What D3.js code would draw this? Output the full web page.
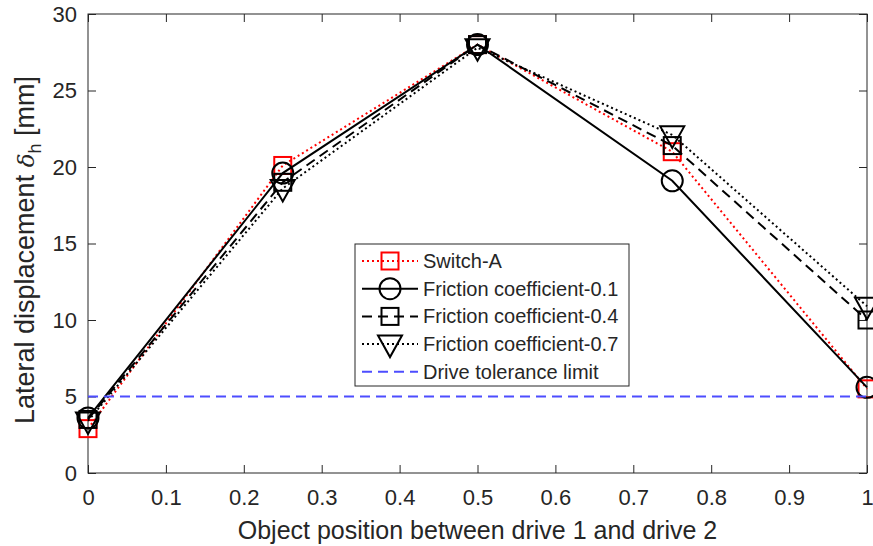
<!DOCTYPE html>
<html>
<head>
<meta charset="utf-8">
<script src="https://cdn.jsdelivr.net/npm/d3@7"></script>
<style>
	body { margin: 0; background: #fff; }
	text { font-family: "Liberation Sans", Arial, sans-serif; fill: #262626; }
</style>
</head>
<body>
<div id="chart"></div>
<script>
var xPos = [0, 0.25, 0.5, 0.75, 1];
var switchA = [2.9, 20.1, 28.0, 21.0, 5.5];
var fric01 = [3.6, 19.6, 28.0, 19.1, 5.6];
var fric04 = [3.5, 19.0, 28.0, 21.4, 10.0];
var fric07 = [3.4, 18.6, 27.8, 22.1, 10.9];
var tolerance = 5;

var xTicks = [0, 0.1, 0.2, 0.3, 0.4, 0.5, 0.6, 0.7, 0.8, 0.9, 1];
var yTicks = [0, 5, 10, 15, 20, 25, 30];

var seriesNames = ["Switch-A", "Friction coefficient-0.1", "Friction coefficient-0.4", "Friction coefficient-0.7", "Drive tolerance limit"];

var W = 873, H = 546,
	margin = {top: 14, right: 6, bottom: 73, left: 88},
	width = W - margin.left - margin.right,
	height = H - margin.top - margin.bottom;

var svg = d3.select("#chart").append("svg")
	.attr("width", W)
	.attr("height", H);

var g = svg.append("g")
	.attr("transform", "translate(" + margin.left + "," + margin.top + ")");

var x = d3.scaleLinear().domain([0, 1]).range([0, width]);
var y = d3.scaleLinear().domain([0, 30]).range([height, 0]);

/* axes */

var axisColor = "#262626";

function styleAxis(sel) {
	sel.select(".domain").remove();
	sel.selectAll("line").attr("stroke", axisColor);
	sel.selectAll("text").attr("font-size", "22px").attr("fill", axisColor);
}

g.append("g")
	.attr("transform", "translate(0," + height + ")")
	.call(d3.axisBottom(x).tickValues(xTicks).tickSizeInner(-8).tickSizeOuter(0).tickPadding(16)
		.tickFormat(function(d){ return d === 0 || d === 1 ? d : d3.format(".1f")(d); }))
	.call(styleAxis);

g.append("g")
	.call(d3.axisTop(x).tickValues(xTicks).tickSizeInner(-8).tickSizeOuter(0).tickFormat(""))
	.call(styleAxis);

g.append("g")
	.call(d3.axisLeft(y).tickValues(yTicks).tickSizeInner(-8).tickSizeOuter(0).tickPadding(11))
	.call(styleAxis);

g.append("g")
	.attr("transform", "translate(" + width + ",0)")
	.call(d3.axisRight(y).tickValues(yTicks).tickSizeInner(-8).tickSizeOuter(0).tickFormat(""))
	.call(styleAxis);

g.append("rect")
	.attr("width", width)
	.attr("height", height)
	.attr("fill", "none")
	.attr("stroke", axisColor)
	.attr("stroke-width", 1);

/* axis labels */

svg.append("text")
	.attr("x", margin.left + width / 2)
	.attr("y", 539)
	.attr("text-anchor", "middle")
	.attr("font-size", "25px")
	.text("Object position between drive 1 and drive 2");

var yl = svg.append("text")
	.attr("transform", "translate(34,250) rotate(-90)")
	.attr("text-anchor", "middle")
	.attr("font-size", "27px");
yl.append("tspan").text("Lateral displacement ");
yl.append("tspan").attr("font-style", "italic").attr("font-family", "DejaVu Serif, serif").attr("font-size", "23px").text("δ");
yl.append("tspan").attr("font-size", "18px").attr("dy", 7).text("h");
yl.append("tspan").attr("dy", -7).text(" [mm]");

/* series */

var series = [
	{name: seriesNames[0], values: switchA, color: "#ff0000", dash: "2,3", marker: "square"},
	{name: seriesNames[1], values: fric01, color: "#000000", dash: null, marker: "circle"},
	{name: seriesNames[2], values: fric04, color: "#000000", dash: "10,6", marker: "square"},
	{name: seriesNames[3], values: fric07, color: "#000000", dash: "2,3", marker: "triangle"}
];

var line = d3.line()
	.x(function(d, i){ return x(xPos[i]); })
	.y(function(d){ return y(d); });

function drawMarker(sel, type, color) {
	if (type === "square") {
		sel.append("rect").attr("x", -8.5).attr("y", -8.5).attr("width", 17).attr("height", 17);
	} else if (type === "circle") {
		sel.append("circle").attr("r", 10.5);
	} else {
		sel.append("path").attr("d", "M-12,-8.5L12,-8.5L0,13Z");
	}
	sel.selectAll("rect,circle,path")
		.attr("fill", "none")
		.attr("stroke", color)
		.attr("stroke-width", 2);
}

series.forEach(function(s) {
	g.append("path")
		.datum(s.values)
		.attr("d", line)
		.attr("fill", "none")
		.attr("stroke", s.color)
		.attr("stroke-width", 2)
		.attr("stroke-dasharray", s.dash);

	g.selectAll(null)
		.data(s.values)
		.enter().append("g")
		.attr("transform", function(d, i){ return "translate(" + x(xPos[i]) + "," + y(d) + ")"; })
		.each(function(){ drawMarker(d3.select(this), s.marker, s.color); });
});

g.append("line")
	.attr("x1", x(0))
	.attr("x2", x(1))
	.attr("y1", y(tolerance))
	.attr("y2", y(tolerance))
	.attr("stroke", "#4d4dff")
	.attr("stroke-width", 2)
	.attr("stroke-dasharray", "10,6");

/* legend */

var legend = svg.append("g").attr("transform", "translate(355,244)");

legend.append("rect")
	.attr("width", 274)
	.attr("height", 142)
	.attr("fill", "#fff")
	.attr("stroke", axisColor)
	.attr("stroke-width", 1);

var legendItems = series.concat([{name: seriesNames[4], color: "#4d4dff", dash: "10,6", marker: null}]);

legendItems.forEach(function(s, i) {
	var row = legend.append("g").attr("transform", "translate(0," + (17 + i * 27.7) + ")");
	row.append("line")
		.attr("x1", 7).attr("x2", 63)
		.attr("stroke", s.color)
		.attr("stroke-width", 2)
		.attr("stroke-dasharray", s.dash);
	if (s.marker) {
		var m = row.append("g").attr("transform", "translate(35,0)");
		drawMarker(m, s.marker, s.color);
	}
	row.append("text")
		.attr("x", 68)
		.attr("dy", "0.35em")
		.attr("font-size", "20px")
		.text(s.name);
});
</script>
</body>
</html>
